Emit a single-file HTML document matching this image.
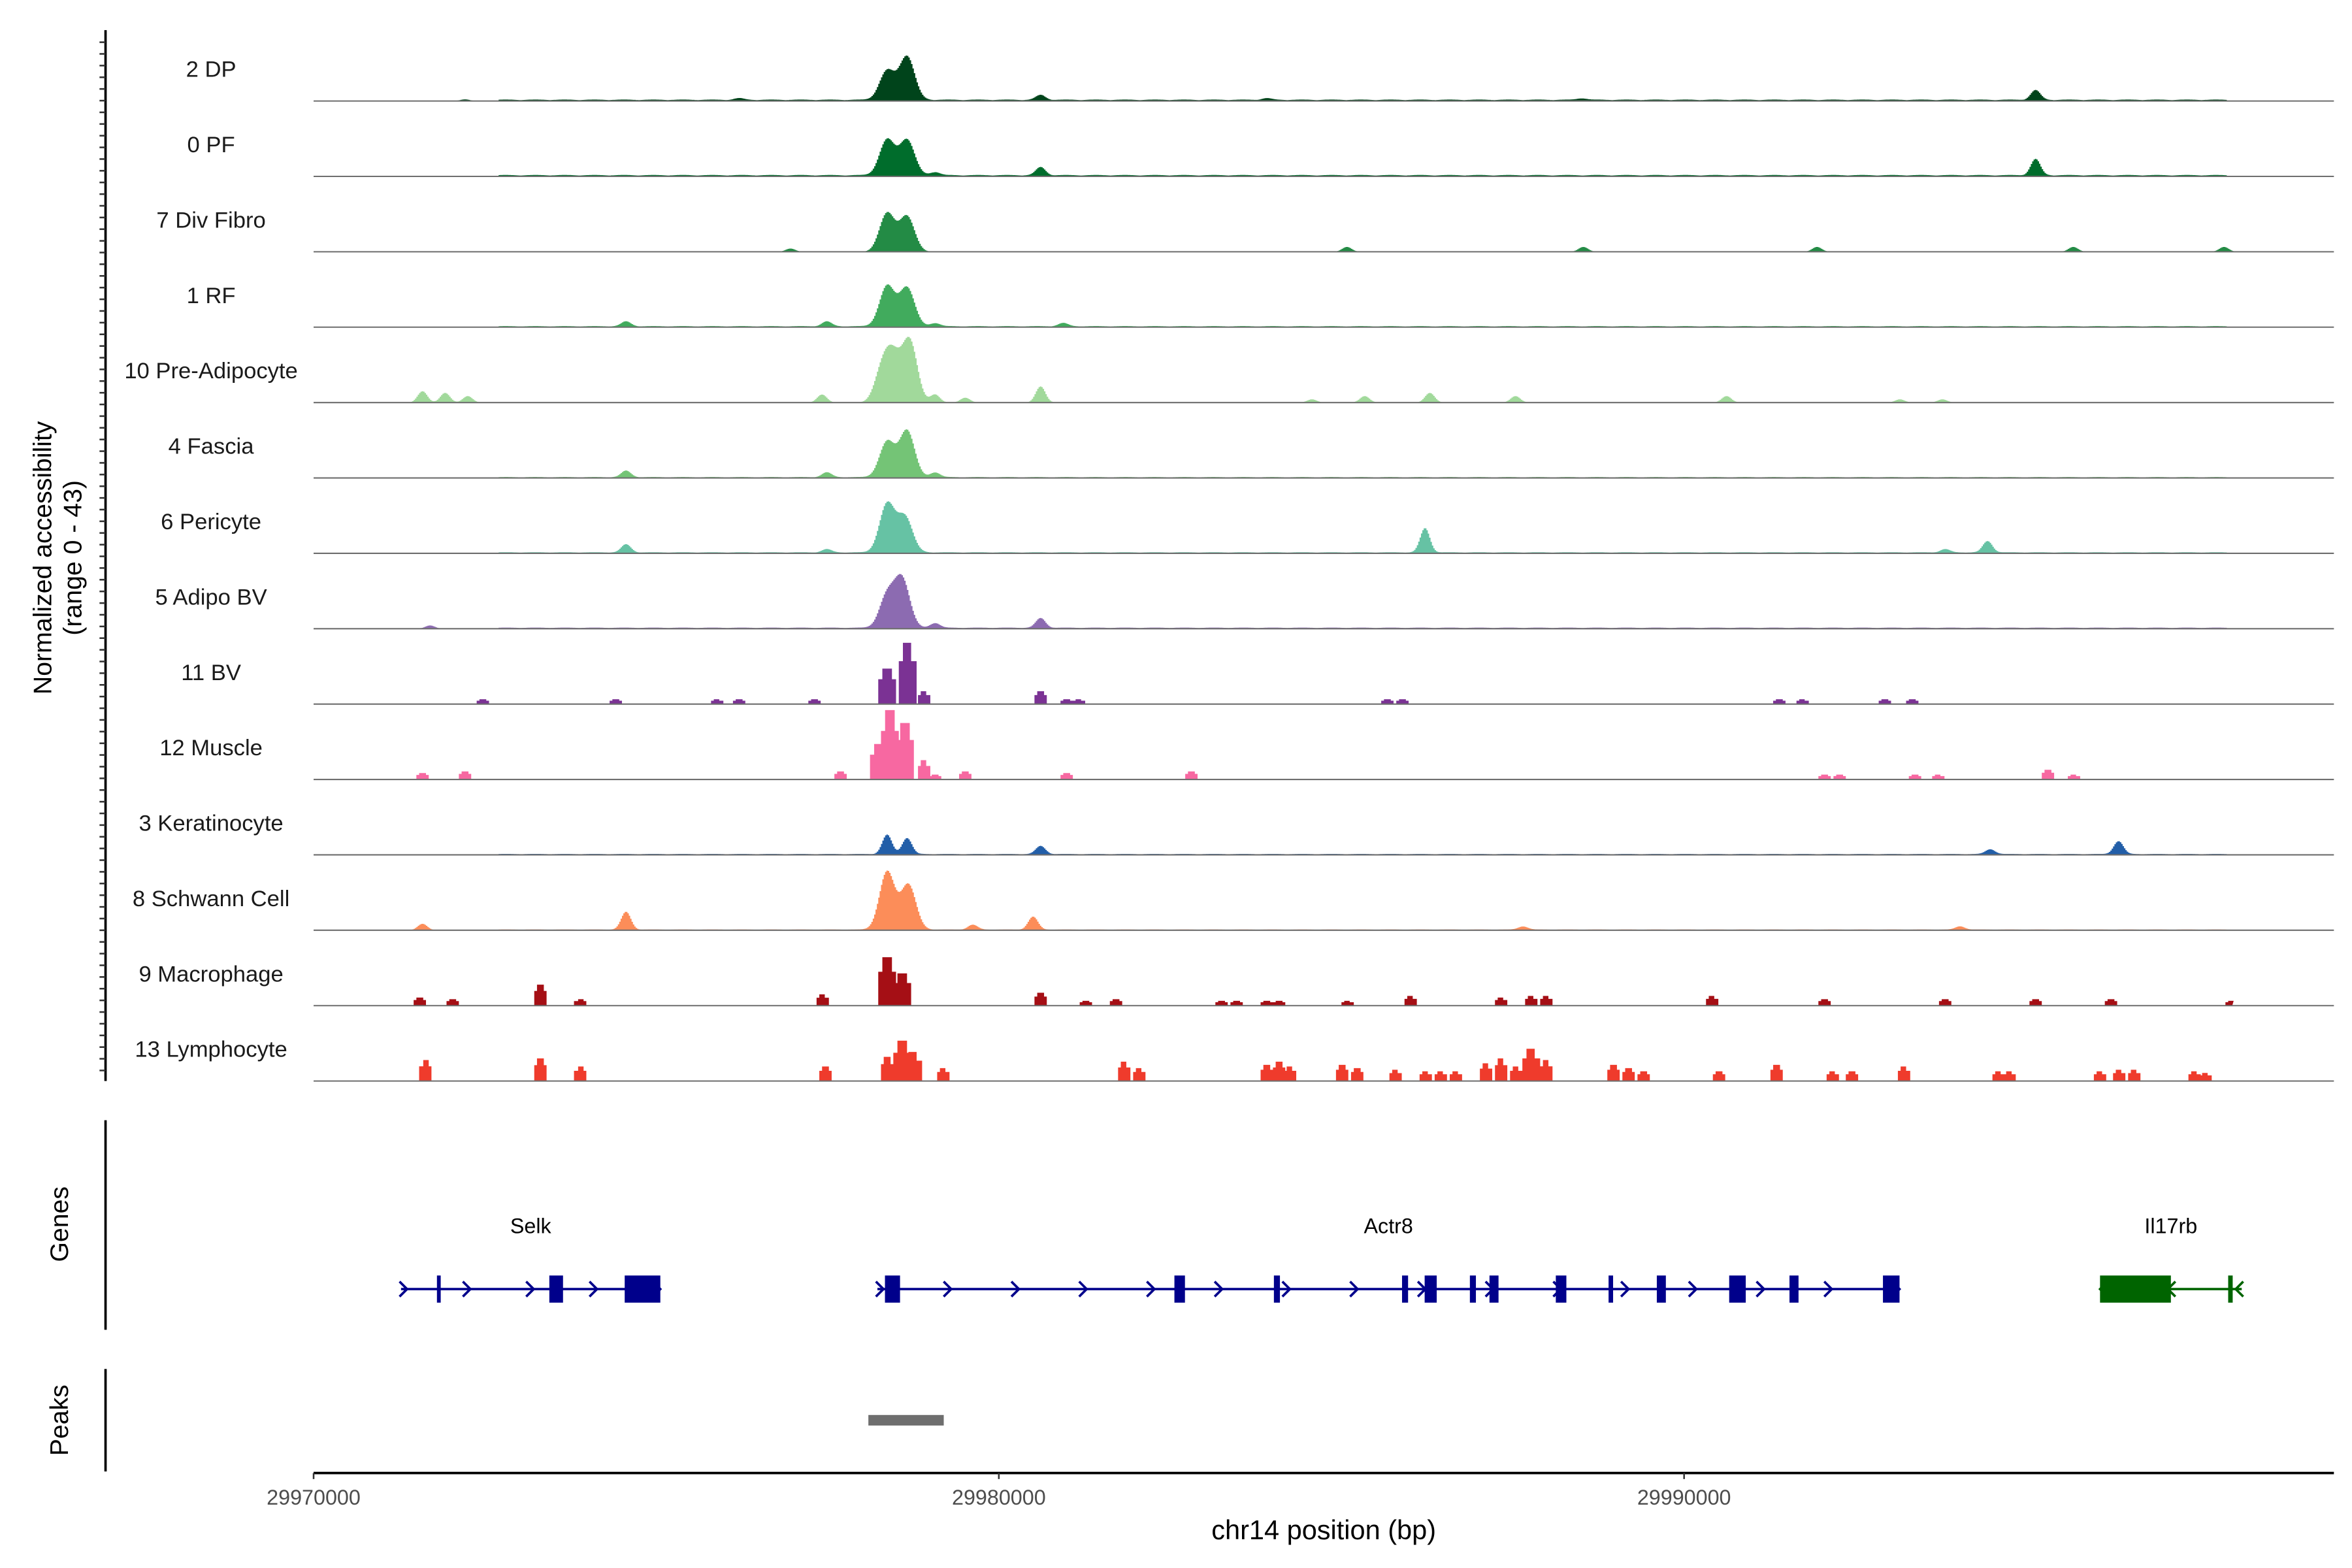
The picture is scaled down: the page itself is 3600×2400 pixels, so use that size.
<!DOCTYPE html>
<html><head><meta charset="utf-8"><style>
html,body{margin:0;padding:0;background:#fff}
svg{display:block}
text{font-family:"Liberation Sans",Arial,sans-serif}
</style></head><body>
<svg id="chart" width="3600" height="2400" viewBox="0 0 1560 1040" xmlns="http://www.w3.org/2000/svg">
<g id="tracks"></g>
<g id="genes"></g>
<g id="peaks"></g>
<g id="axes"></g>
</svg>
<script>
const trackNames = ["2 DP","0 PF","7 Div Fibro","1 RF","10 Pre-Adipocyte","4 Fascia","6 Pericyte","5 Adipo BV","11 BV","12 Muscle","3 Keratinocyte","8 Schwann Cell","9 Macrophage","13 Lymphocyte"];
const trackColors = ["#00441b","#006d2c","#238b45","#41ab5d","#a1d99b","#74c476","#66c2a4","#8c6bb1","#7b3294","#f768a1","#225ea8","#fc8d59","#a50f15","#ef3b2c"];
const trackBlocky = [false,false,false,false,false,false,false,false,true,true,false,false,true,true];
const trackBg = [0.9,0.9,0,0.7,0,0.6,0.7,0.7,0,0,0.6,0.5,0,0];
// peak positions in kb from 29970000 and heights (range 0-43)
const peakKb = [
 [8.36,8.65,10.6,25.12,2.2,6.2,13.9,18.5],
 [8.36,8.65,10.6,25.12,9.06],
 [8.36,8.65,6.95,15.07,18.52,21.93,25.67,27.87],
 [8.36,8.65,4.55,7.48,10.93,9.06],
 [8.29,8.45,8.69,10.6,1.58,1.91,2.24,7.41,14.56,15.33,16.28,17.53,20.61,23.14,23.76,9.06,9.5],
 [8.36,8.65,4.55,7.48,9.06],
 [8.36,8.62,4.55,16.21,24.42,23.8,7.48],
 [8.36,8.58,10.6,1.69,9.06],
 [8.36,8.65,8.89,2.46,4.4,5.87,6.2,7.3,10.6,10.98,11.15,15.66,15.88,21.38,21.71,22.92,23.32],
 [8.23,8.4,8.62,8.89,9.06,9.5,1.58,2.2,7.68,10.98,12.8,22.04,22.26,23.36,23.69,25.3,25.67],
 [8.36,8.65,10.6,26.33,24.46],
 [8.36,8.67,4.55,1.58,10.49,9.61,17.64,24.02],
 [8.36,8.58,3.3,1.54,2.02,3.89,7.41,10.6,11.26,11.7,15.99,17.31,17.75,17.97,20.39,22.04,23.8,25.12,26.22,27.98,13.24,13.46,13.9,14.08,15.07],
 [1.63,3.3,3.89,7.46,8.36,8.58,8.73,9.17,11.81,12.03,13.9,14.08,14.23,15.0,15.22,15.77,16.21,16.43,16.65,17.09,17.31,17.53,17.75,17.97,18.96,19.18,19.4,20.5,21.34,22.15,22.44,23.19,24.57,24.73,26.05,26.33,26.55,27.43,27.59]
];
const peakHeight = [
 [18,27,3,6,1,1,1,1],
 [22,22,5,10,2],
 [24,22,2,3,3,3,3,3],
 [25,24,3,3,2,2],
 [20,25,38,10,7,6,4,5,2,4,6,4,4,2,2,5,3],
 [22,29,4,3,3],
 [30,22,5,15,7,2,2],
 [20,30,6,2,3],
 [22,38,8,3,3,3,3,3,8,3,3,3,3,3,3,3,3],
 [22,43,35,12,3,5,4,5,5,4,5,3,3,3,3,6,3],
 [12,10,5,8,3],
 [36,28,11,4,8,3,2,2],
 [30,20,13,5,4,4,7,8,3,4,6,5,6,6,6,4,4,4,4,3,3,3,3,3,3],
 [13,14,9,9,15,25,18,8,12,8,10,12,9,10,8,7,6,6,6,11,14,9,20,13,10,8,6,6,10,6,6,9,6,6,6,7,7,6,5]
];
const geneNames = ["Selk","Actr8","Il17rb"];
const geneStart = [29971276,29978228,29996070];
const geneEnd = [29975060,29993144,29998138];
const geneStrand = [1,1,-1];
const geneColor = ["#00008b","#00008b","#006400"];
const geneExons = [
 [[29971800,29971850],[29973440,29973640],[29974540,29975060]],
 [[29978338,29978558],[29982562,29982716],[29984014,29984102],[29985884,29985972],[29986214,29986390],[29986874,29986962],[29987160,29987292],[29988128,29988282],[29988898,29988964],[29989602,29989734],[29990658,29990900],[29991538,29991670],[29992902,29993144]],
 [[29996070,29997104],[29997940,29998006]]
];
const peakRegions = [[29978096,29979196]];
const xTicks = [29970000,29980000,29990000];

const NS="http://www.w3.org/2000/svg";
const X0=208, X1=1548, BP0=29970000, BP1=29999483;
function xScale(bp){return X0+(bp-BP0)/(BP1-BP0)*(X1-X0);}
const YMAX=43, TH=46;
function yScale(v,base){return base - v/YMAX*TH;}
function mk(tag,attrs,parent){const e=document.createElementNS(NS,tag);for(const k in attrs)e.setAttribute(k,attrs[k]);parent.appendChild(e);return e;}

const tracksG=document.getElementById('tracks');
trackNames.forEach((name,i)=>{
  const base=67+i*50;
  const g=mk('g',{},tracksG);
  
  
  const step=0.02;
  let d='M'+xScale(BP0+1200).toFixed(2)+','+base;
  for(let kb=1.2;kb<=28.0;kb+=step){
    let v=0;
    const bgOn = trackBg[i]>0 && kb>2.7 && kb<27.9 ? trackBg[i]*(0.6+0.4*Math.abs(Math.sin(kb*7.3))) : 0;
    peakKb[i].forEach((c,j)=>{
      const h=peakHeight[i][j];
      if(trackBlocky[i]){ const w=h>15?0.13:0.09; if(Math.abs(kb-c)<w) v=Math.max(v,h*(Math.abs(kb-c)<w*0.5?1:0.7)); }
      else { const s=h>15?0.11:0.07; v+=h*Math.exp(-0.5*((kb-c)/s)**2); }
    });
    v=Math.min(YMAX,v+bgOn);
    const x=xScale(BP0+kb*1000);
    d+=' L'+x.toFixed(2)+','+yScale(v,base).toFixed(2)+' L'+(x+step*1000*(X1-X0)/(BP1-BP0)).toFixed(2)+','+yScale(v,base).toFixed(2);
  }
  d+=' L'+xScale(BP0+28000).toFixed(2)+','+base+' Z';
  const p=mk('path',{d:d,fill:trackColors[i],stroke:'none'},g);
  
  
  const bl=mk('line',{x1:X0,x2:X1,y1:base,y2:base,stroke:'#6e6e6e','stroke-width':0.9},g);
  
  
  const t=mk('text',{x:140,y:base-16,'font-size':15,'text-anchor':'middle',fill:'#1a1a1a'},g);
  t.textContent=name;
  
  
});

// genes
const genesG=document.getElementById('genes');
const GY=855;
geneNames.forEach((n,i)=>{
  const g=mk('g',{},genesG);
  
  
  const c=geneColor[i], xs=xScale(geneStart[i]), xe=xScale(geneEnd[i]);
  mk('line',{x1:xs,x2:xe,y1:GY,y2:GY,stroke:c,'stroke-width':1.6},g);
  const nArr=Math.max(2,Math.round((xe-xs)/46));
  for(let k=0;k<=nArr;k++){
    const ax=xs+2+k*(xe-xs-4)/nArr;
    const dir=geneStrand[i];
    mk('path',{d:`M${ax-3*dir},${GY-5} L${ax+2*dir},${GY} L${ax-3*dir},${GY+5}`,fill:'none',stroke:c,'stroke-width':1.6},g);
  }
  geneExons[i].forEach(e=>{
    const a=xScale(e[0]), b=xScale(e[1]);
    const r=mk('rect',{x:a,y:GY-9,width:Math.max(2.5,b-a),height:18,fill:c},g);
    
    
  });
  const t=mk('text',{x:(xs+xe)/2,y:818,'font-size':14,'text-anchor':'middle',fill:'#000'},g);
  t.textContent=n;
  
  
});

// peaks
const peaksG=document.getElementById('peaks');
peakRegions.forEach(p=>{
  const r=mk('rect',{x:xScale(p[0]),y:938.5,width:xScale(p[1])-xScale(p[0]),height:7,fill:'#6e6e6e'},peaksG);
  
  
});

// axes
const axG=document.getElementById('axes');
const ya=mk('line',{x1:70,x2:70,y1:20,y2:717,stroke:'#000','stroke-width':1.6},axG);


for(let y=28;y<717;y+=7.75){ mk('line',{x1:66,x2:70,y1:y,y2:y,stroke:'#333','stroke-width':1.1},axG); }
const yt=mk('text',{x:0,y:0,'font-size':17,'text-anchor':'middle',fill:'#000',transform:'translate(34,370) rotate(-90)'},axG);


const ts1=mk('tspan',{x:0,dy:0},yt); ts1.textContent='Normalized accessibility';
const ts2=mk('tspan',{x:0,dy:20},yt); ts2.textContent='(range 0 - 43)';
[[743,882,'Genes',812],[908,976,'Peaks',942]].forEach(a=>{
  const l=mk('line',{x1:70,x2:70,y1:a[0],y2:a[1],stroke:'#000','stroke-width':1.6},axG);
  
  
  const t=mk('text',{x:0,y:0,'font-size':17,'text-anchor':'middle',fill:'#000',transform:`translate(45,${a[3]}) rotate(-90)`},axG);
  t.textContent=a[2];
  
  
});
const xa=mk('line',{x1:X0,x2:X1,y1:977,y2:977,stroke:'#000','stroke-width':1.6},axG);


xTicks.forEach(v=>{
  const x=xScale(v);
  mk('line',{x1:x,x2:x,y1:977,y2:981,stroke:'#333','stroke-width':1.1},axG);
  const t=mk('text',{x:x,y:998,'font-size':14,'text-anchor':'middle',fill:'#4d4d4d'},axG);
  t.textContent=String(v);
  
  
});
const xt=mk('text',{x:878,y:1021,'font-size':18,'text-anchor':'middle',fill:'#000'},axG);
xt.textContent='chr14 position (bp)';


</script>
</body></html>
